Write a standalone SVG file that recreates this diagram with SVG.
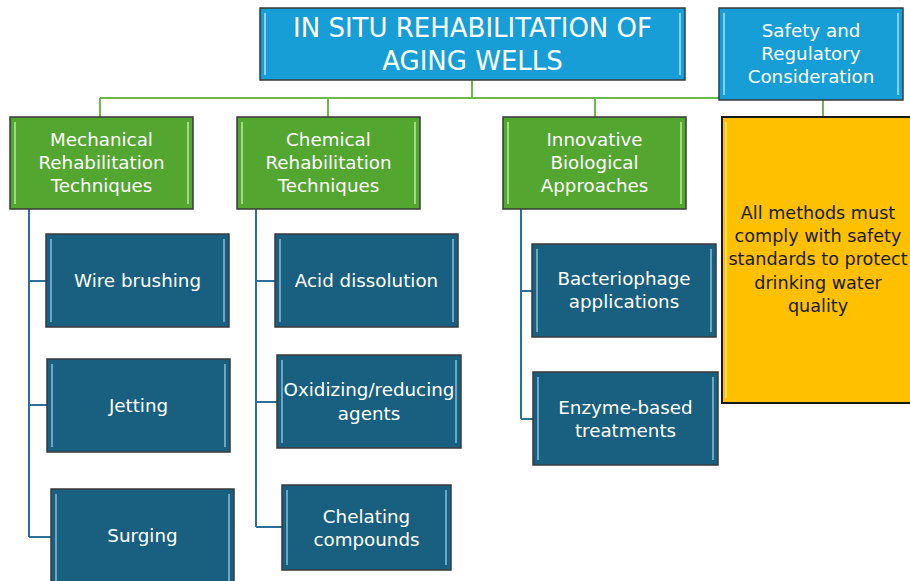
<svg xmlns="http://www.w3.org/2000/svg" width="910" height="581" viewBox="0 0 910 581">
<style>
.box{stroke:#3a3a3a;stroke-width:1.5}
.blue{fill:#179ed6}
.green{fill:#53a630}
.dark{fill:#195f80}
.yellow{fill:#ffc000;stroke:#1a1a1a;stroke-width:2}
.bl{fill:#7fd3f5}
.gl{fill:#9fdc7e}
.dl{fill:#6aa6c6}
.yl{fill:#ffe14d}
text{font-family:"DejaVu Sans","Open Sans",sans-serif;text-anchor:middle;fill:#ffffff}
.t{font-size:26px}
.m{font-size:18.3px}
.y{font-size:17.6px;fill:#1a1a1a}
.cg{stroke:#6cb84a;stroke-width:2;fill:none}
.cb{stroke:#2f6e96;stroke-width:2;fill:none}
</style>
<rect width="910" height="581" fill="#ffffff"/>
<g id="connectors">
<path class="cg" d="M472 80V98M100 98H719M100 98V117M328 98V117M595 98V117M823 100V117"/>
<path class="cb" d="M29 209V537M29 281H46M29 405H47M29 537H51"/>
<path class="cb" d="M256 209V527M256 281H275M256 402H277M256 527H282"/>
<path class="cb" d="M521 209V419M521 291H532M521 419H533"/>
</g>
<g id="title">
<rect class="box blue" x="260" y="8" width="425" height="72"/>
<rect class="bl" x="264" y="13" width="2" height="62"/><rect class="bl" x="679" y="13" width="2" height="62"/>
<text class="t" x="472.5" y="37">IN SITU REHABILITATION OF</text>
<text class="t" x="472.5" y="70">AGING WELLS</text>
</g>
<g id="safety">
<rect class="box blue" x="719" y="8" width="184" height="92"/>
<rect class="bl" x="723" y="13" width="2" height="82"/><rect class="bl" x="897" y="13" width="2" height="82"/>
<text class="m" x="811" y="37">Safety and</text>
<text class="m" x="811" y="60">Regulatory</text>
<text class="m" x="811" y="83">Consideration</text>
</g>
<g id="mechanical">
<rect class="box green" x="10" y="117" width="183" height="92"/>
<rect class="gl" x="14" y="122" width="2" height="82"/><rect class="gl" x="187" y="122" width="2" height="82"/>
<text class="m" x="101.5" y="146">Mechanical</text>
<text class="m" x="101.5" y="169">Rehabilitation</text>
<text class="m" x="101.5" y="192">Techniques</text>
</g>
<g id="chemical">
<rect class="box green" x="237" y="117" width="183" height="92"/>
<rect class="gl" x="241" y="122" width="2" height="82"/><rect class="gl" x="414" y="122" width="2" height="82"/>
<text class="m" x="328.5" y="146">Chemical</text>
<text class="m" x="328.5" y="169">Rehabilitation</text>
<text class="m" x="328.5" y="192">Techniques</text>
</g>
<g id="biological">
<rect class="box green" x="503" y="117" width="183" height="92"/>
<rect class="gl" x="507" y="122" width="2" height="82"/><rect class="gl" x="680" y="122" width="2" height="82"/>
<text class="m" x="594.5" y="146">Innovative</text>
<text class="m" x="594.5" y="169">Biological</text>
<text class="m" x="594.5" y="192">Approaches</text>
</g>
<g id="note">
<rect class="yellow" x="722" y="117" width="204" height="286"/>
<rect class="yl" x="725" y="122" width="2" height="276"/>
<text class="y" x="818" y="219">All methods must</text>
<text class="y" x="818" y="242">comply with safety</text>
<text class="y" x="818" y="265">standards to protect</text>
<text class="y" x="818" y="289">drinking water</text>
<text class="y" x="818" y="312">quality</text>
</g>
<g id="wire">
<rect class="box dark" x="46" y="234" width="183" height="93"/>
<rect class="dl" x="50" y="239" width="2" height="83"/><rect class="dl" x="223" y="239" width="2" height="83"/>
<text class="m" x="137.5" y="287">Wire brushing</text>
</g>
<g id="jetting">
<rect class="box dark" x="47" y="359" width="183" height="93"/>
<rect class="dl" x="51" y="364" width="2" height="83"/><rect class="dl" x="224" y="364" width="2" height="83"/>
<text class="m" x="138.5" y="412">Jetting</text>
</g>
<g id="surging">
<rect class="box dark" x="51" y="489" width="183" height="96"/>
<rect class="dl" x="55" y="494" width="2" height="90"/><rect class="dl" x="228" y="494" width="2" height="90"/>
<text class="m" x="142.5" y="542">Surging</text>
</g>
<g id="acid">
<rect class="box dark" x="275" y="234" width="183" height="93"/>
<rect class="dl" x="279" y="239" width="2" height="83"/><rect class="dl" x="452" y="239" width="2" height="83"/>
<text class="m" x="366.5" y="287">Acid dissolution</text>
</g>
<g id="oxidizing">
<rect class="box dark" x="277" y="355" width="184" height="93"/>
<rect class="dl" x="281" y="360" width="2" height="83"/><rect class="dl" x="455" y="360" width="2" height="83"/>
<text class="m" x="369" y="396">Oxidizing/reducing</text>
<text class="m" x="369" y="420">agents</text>
</g>
<g id="chelating">
<rect class="box dark" x="282" y="485" width="169" height="85"/>
<rect class="dl" x="286" y="490" width="2" height="75"/><rect class="dl" x="445" y="490" width="2" height="75"/>
<text class="m" x="366.5" y="523">Chelating</text>
<text class="m" x="366.5" y="546">compounds</text>
</g>
<g id="bacteriophage">
<rect class="box dark" x="532" y="244" width="184" height="93"/>
<rect class="dl" x="536" y="249" width="2" height="83"/><rect class="dl" x="710" y="249" width="2" height="83"/>
<text class="m" x="624" y="285">Bacteriophage</text>
<text class="m" x="624" y="308">applications</text>
</g>
<g id="enzyme">
<rect class="box dark" x="533" y="372" width="185" height="93"/>
<rect class="dl" x="537" y="377" width="2" height="83"/><rect class="dl" x="712" y="377" width="2" height="83"/>
<text class="m" x="625.5" y="414">Enzyme-based</text>
<text class="m" x="625.5" y="437">treatments</text>
</g>
</svg>
